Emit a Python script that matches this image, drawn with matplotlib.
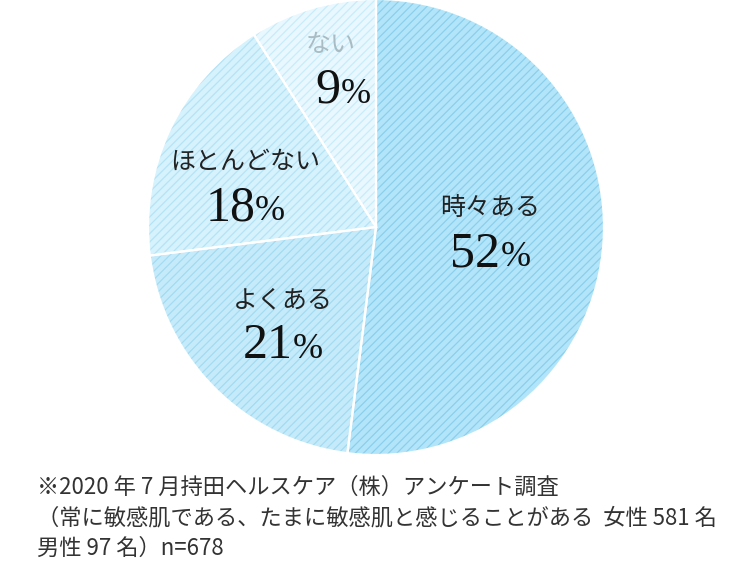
import matplotlib
matplotlib.use("Agg")
import matplotlib.pyplot as plt

plt.rcParams['font.family'] = ['Noto Sans CJK JP', 'DejaVu Sans']
plt.rcParams['hatch.linewidth'] = 0.9

# データ
labels = ["時々ある", "よくある", "ほとんどない", "ない"]
values = [52, 21, 18, 9]
face_colors = ["#b2e5f9", "#c5ebfa", "#d6f2fd", "#e8f8fe"]
stripe_colors = ["#8ccfec", "#a2dbf2", "#b4e3f6", "#c8ecf9"]
label_colors = ["#222222", "#222222", "#222222", "#a9bcc4"]
# ラベル中心 (データ座標)
label_pos = [(0.50, 0.083), (-0.41, -0.32), (-0.575, 0.285), (-0.20, 0.80)]

note = ("※2020 年 7 月持田ヘルスケア（株）アンケート調査\n"
        "（常に敏感肌である、たまに敏感肌と感じることがある  女性 581 名\n"
        "男性 97 名）n=678")

fig = plt.figure(figsize=(7.5, 5.61), dpi=100)
ax = fig.add_axes([148 / 750, 1 - 455 / 561, 456 / 750, 456 / 561])

wedges, _ = ax.pie(values, startangle=90, counterclock=False,
                   colors=face_colors, radius=1.0,
                   wedgeprops=dict(linewidth=0))
for w, sc in zip(wedges, stripe_colors):
    w.set_hatch("////")
    w.set_edgecolor(sc)
    w.set_linewidth(0)

# 白い境界線
ax.pie(values, startangle=90, counterclock=False, radius=1.0,
       wedgeprops=dict(fill=False, edgecolor="white", linewidth=1.6))

for lab, v, (x, y), c in zip(labels, values, label_pos, label_colors):
    ax.text(x, y, lab, ha="center", va="center", fontsize=18, color=c)
    ax.text(x + 0.045, y - 0.255, f"{v}", ha="right", va="baseline",
            fontsize=36, family="Liberation Serif", color="#111111")
    ax.text(x + 0.045, y - 0.255, "%", ha="left", va="baseline", fontsize=26,
            family="Liberation Serif", color="#111111")

ax.set_xlim(-1, 1)
ax.set_ylim(-1, 1)
ax.set_aspect("equal")
ax.axis("off")

fig.text(37 / 750, 1 - 476 / 561, note, ha="left", va="top", fontsize=16,
         color="#333333", linespacing=1.42)

fig.savefig("out.png", dpi=100)
